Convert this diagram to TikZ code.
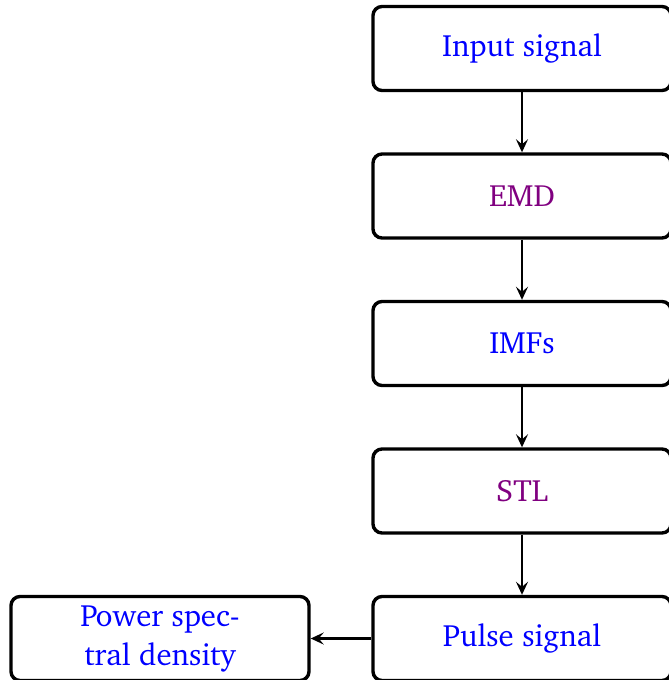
\documentclass[tikz,border=0pt]{standalone}
\usepackage[T1]{fontenc}
\usepackage{charter}
\usetikzlibrary{arrows.meta}
\definecolor{stepblue}{RGB}{0,0,255}
\definecolor{steppurple}{RGB}{128,0,128}
\tikzset{
  x=1pt, y=1pt,
  stagebox/.style={draw=black, line width=3.4pt, rounded corners=9pt,
    minimum width=298pt, minimum height=84pt, inner sep=0pt,
    align=center, font=\fontsize{30.8}{39}\selectfont},
  flow/.style={line width=2.2pt, -{Stealth[length=13pt,width=12pt,inset=5pt]}}
}
\begin{document}
\begin{tikzpicture}
\useasboundingbox (0,0) rectangle (669,-680);
\clip (0,0) rectangle (669,-680);
\node[stagebox, text=stepblue]   (input) at (522,-48.5) {Input signal};
\node[stagebox, text=steppurple] (emd)   at (522,-196)  {EMD};
\node[stagebox, text=stepblue]   (imfs)  at (522,-343.5) {IMFs};
\node[stagebox, text=steppurple] (stl)   at (522,-491)  {STL};
\node[stagebox, text=stepblue]   (pulse) at (522,-638.5) {Pulse signal};
\node[stagebox, text=stepblue]   (psd)   at (160,-638.5) {Power spec-\\tral density};
\draw[flow] (input) -- (emd);
\draw[flow] (emd) -- (imfs);
\draw[flow] (imfs) -- (stl);
\draw[flow] (stl) -- (pulse);
\draw[flow] (pulse) -- (psd);
\end{tikzpicture}
\end{document}
